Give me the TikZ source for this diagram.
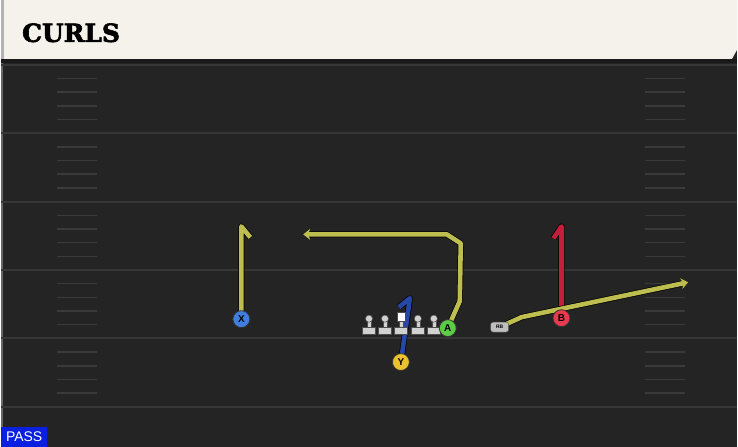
\documentclass[tikz,border=0pt]{standalone}
\usepackage{fontspec}
\setmainfont{Liberation Sans}
\newfontfamily\playfont{DejaVu Serif}[BoldFeatures={FakeBold=2.5}]
\usepackage{tikz}
\usetikzlibrary{arrows.meta}

\definecolor{field}{HTML}{242424}
\definecolor{yardline}{HTML}{363636}
\definecolor{hashcol}{HTML}{3A3A3A}
\definecolor{header}{HTML}{F5F2EB}
\definecolor{routeyel}{HTML}{BDBD50}
\definecolor{routered}{HTML}{C41E3A}
\definecolor{routeblu}{HTML}{2747A8}
\definecolor{xblue}{HTML}{3F7FE0}
\definecolor{agreen}{HTML}{5CCB45}
\definecolor{bred}{HTML}{E63B4C}
\definecolor{yyellow}{HTML}{EBC12F}
\definecolor{passblue}{HTML}{0A1FE0}

\pgfdeclarelayer{fieldlayer}
\pgfdeclarelayer{routes}
\pgfsetlayers{fieldlayer,routes,main}

\begin{document}
\begin{tikzpicture}[
    player/.style={circle, draw=black!80, line width=0.8pt, minimum size=17pt,
      inner sep=0pt, font=\bfseries\fontsize{10}{10}\selectfont},
    route/.style={line width=4.6pt, line join=round,
      preaction={draw=black, line width=6pt, line join=round}},
    lineman/.style={fill=black!18, draw=black!70, line width=0.5pt},
    hash/.style={draw=hashcol, line width=1.5pt},
    x=1pt,y=-1pt
    ]
    \begin{pgfonlayer}{fieldlayer}
    % field and header
    \fill[field] (0,0) rectangle (738,448);
    \fill[black!60] (0,59) rectangle (2,448);
    \fill[black!90] (0,59) rectangle (738,63);
    \fill[header] (3,0) -- (738,0) -- (738,50) -- (733,59) -- (3,59) -- cycle;
    \fill[black!30] (0,0) rectangle (3,59);

    % yard lines and hashes
    \foreach \i in {0,...,5}
      \draw[yardline, line width=2pt] (0,65+68.6*\i) -- (738,65+68.6*\i);
    \foreach \i in {0,...,4}
      \foreach \k in {1,...,4} {
        \draw[hash] (56,65+68.6*\i+13.7*\k) -- (96,65+68.6*\i+13.7*\k);
        \draw[hash] (646,65+68.6*\i+13.7*\k) -- (686,65+68.6*\i+13.7*\k);
      }
    \end{pgfonlayer}
    \node[anchor=base west, inner sep=0pt, font=\playfont\bfseries\fontsize{25}{25}\selectfont]
      (title) at (21,42) {CURLS};

    % offensive line
    \foreach \ox in {369,385,418,434} {
      \draw[lineman] (\ox-6.5,328) rectangle (\ox+6.5,335);
      \draw[lineman] (\ox-2,322) rectangle (\ox+2,328);
      \draw[lineman] (\ox,319.5) circle (3.6);
    }
    \draw[lineman] (394.5,328) rectangle (407.5,335);
    \draw[lineman] (399,322) rectangle (403,328);
    \draw[fill=white, draw=black!70, line width=0.5pt] (397,313) rectangle (405,322);

    % players
    \node[player, fill=xblue] (X) at (241,320) {X};
    \node[player, fill=agreen] (A) at (448,329) {A};
    \node[player, fill=bred] (B) at (562,319) {B};
    \node[player, fill=yyellow] (Y) at (401,363) {Y};
    \node[draw=black!70, fill=black!25, rounded corners=2.5pt, minimum width=18pt,
      minimum height=10pt, inner sep=0pt, font=\bfseries\fontsize{5}{5}\selectfont]
      (RB) at (500,328) {RB};

    % route ends
    \coordinate (Xend) at (250,238);
    \coordinate (Aend) at (303,235);
    \coordinate (Bend) at (554,239);
    \coordinate (Yend) at (399,308);
    \coordinate (RBend) at (689,283);

    % routes
    \begin{pgfonlayer}{routes}
      \draw[route, routeyel] (X.center) -- (241,227) -- (Xend);
      \draw[route, routeyel, -{Stealth[length=7pt, width=11pt, inset=2pt]}]
        (A.center) -- (460,302) -- (461,244) -- (447,235) -- (Aend);
      \draw[route, routered] (B.center) -- (562,227) -- (Bend);
      \draw[route, routeblu] (Y.center) -- (410,299) -- (Yend);
      \draw[route, routeyel, -{Stealth[length=7pt, width=11pt, inset=2pt]}]
        (RB.center) -- (522,318) -- (RBend);
    \end{pgfonlayer}

    % play type
    \node[fill=passblue, text=white, anchor=south west, minimum width=46pt,
      minimum height=20pt, inner sep=0pt, font=\fontsize{14}{14}\selectfont]
      (pass) at (0,448) {PASS};
  \end{tikzpicture}
\end{document}
